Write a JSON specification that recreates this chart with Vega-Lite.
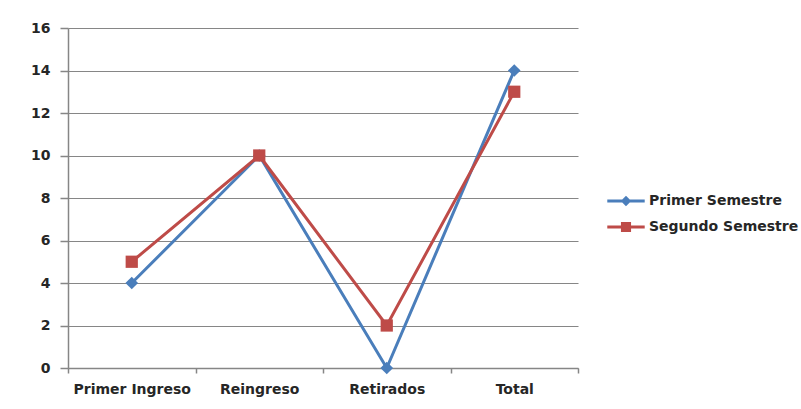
{
  "$schema": "https://vega.github.io/schema/vega-lite/v6.json",
  "autosize": "none",
  "width": 510,
  "height": 340,
  "padding": {"left": 68, "top": 28, "right": 223, "bottom": 41},
  "background": "white",
  "config": {
    "view": {"stroke": null},
    "font": "DejaVu Sans",
    "axis": {"labelFont": "DejaVu Sans", "labelColor": "#262626", "domainColor": "#868686", "tickColor": "#868686", "gridColor": "#868686", "domainWidth": 1.5, "tickWidth": 1.5},
    "legend": {"labelFont": "DejaVu Sans"}
  },
  "data": {"values": [
    {"cat": "Primer Ingreso", "serie": "Primer Semestre", "v": 4},
    {"cat": "Reingreso", "serie": "Primer Semestre", "v": 10},
    {"cat": "Retirados", "serie": "Primer Semestre", "v": 0},
    {"cat": "Total", "serie": "Primer Semestre", "v": 14},
    {"cat": "Primer Ingreso", "serie": "Segundo Semestre", "v": 5},
    {"cat": "Reingreso", "serie": "Segundo Semestre", "v": 10},
    {"cat": "Retirados", "serie": "Segundo Semestre", "v": 2},
    {"cat": "Total", "serie": "Segundo Semestre", "v": 13}
  ]},
  "encoding": {
    "x": {"field": "cat", "type": "nominal", "sort": null,
      "scale": {"type": "band", "paddingInner": 0, "paddingOuter": 0},
      "axis": {"title": null, "labelAngle": 0, "tickBand": "extent", "tickSize": 5, "labelFontSize": 14, "labelFontWeight": "bold", "labelPadding": 9, "grid": false}},
    "y": {"field": "v", "type": "quantitative",
      "scale": {"domain": [0, 16]},
      "axis": {"title": null, "values": [0, 2, 4, 6, 8, 10, 12, 14, 16], "tickSize": 8, "labelFontSize": 14, "labelFontWeight": "bold", "labelPadding": 10, "grid": true, "gridWidth": 1.2}},
    "color": {"field": "serie", "type": "nominal",
      "scale": {"domain": ["Primer Semestre", "Segundo Semestre"], "range": ["#4a7ebb", "#be4b48"]},
      "legend": {"title": null, "orient": "none", "legendX": 539, "legendY": 154, "symbolSize": 1400, "symbolOpacity": 1, "symbolStrokeWidth": 0, "labelFontSize": 14, "labelFontWeight": "bold", "labelColor": "#262626", "rowPadding": -10, "labelOffset": 4}}
  },
  "layer": [
    {"mark": {"type": "line", "strokeWidth": 3}},
    {"transform": [{"filter": "datum.serie == 'Primer Semestre'"}],
      "mark": {"type": "point", "filled": true, "opacity": 1, "shape": "diamond", "size": 160}},
    {"transform": [{"filter": "datum.serie == 'Segundo Semestre'"}],
      "mark": {"type": "point", "filled": true, "opacity": 1, "shape": "square", "size": 150}},
    {"mark": {"type": "point", "filled": true, "opacity": 0},
      "encoding": {
        "shape": {"field": "serie", "type": "nominal",
          "scale": {"domain": ["Primer Semestre", "Segundo Semestre"], "range": ["M-1,-0.075H1V0.075H-1Z M0,-0.28L0.28,0L0,0.28L-0.28,0Z", "M-1,-0.075H1V0.075H-1Z M-0.27,-0.27H0.27V0.27H-0.27Z"]},
          "legend": {"title": null, "orient": "none", "legendX": 539, "legendY": 154, "symbolSize": 1400, "symbolOpacity": 1, "symbolStrokeWidth": 0, "labelFontSize": 14, "labelFontWeight": "bold", "labelColor": "#262626", "rowPadding": -10, "labelOffset": 4}}
      }}
  ]
}
